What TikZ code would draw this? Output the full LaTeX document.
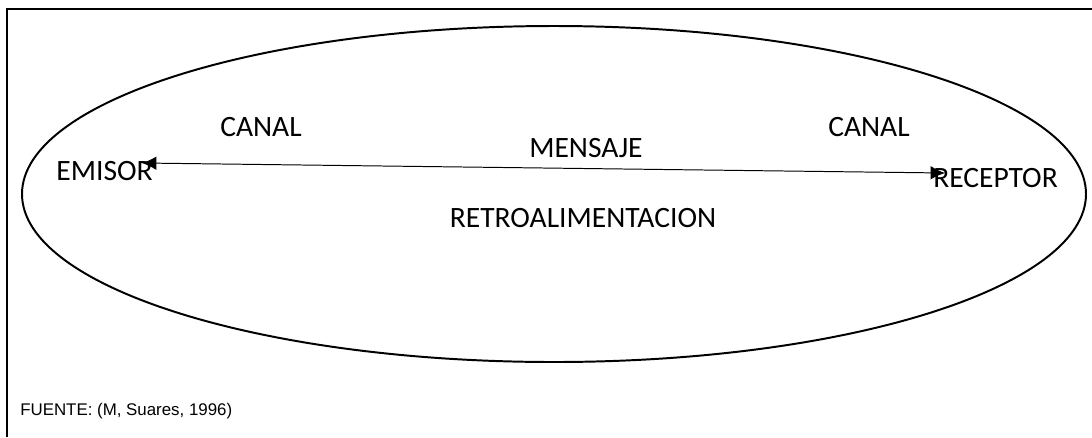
\documentclass[tikz,border=0pt]{standalone}
\usepackage{fontspec}
\setmainfont{Carlito}
\newfontfamily\arialfont{Liberation Sans}
\usetikzlibrary{arrows.meta,positioning,calc}

\begin{document}
\begin{tikzpicture}[x=0.025cm, y=-0.025cm,
            word/.style={font=\fontsize{21}{25}\selectfont, inner sep=0pt},
            note/.style={font=\arialfont\fontsize{12}{14}\selectfont, inner sep=0pt},
            frame/.style={line width=1.6pt},
            ring/.style={line width=1.4pt},
            link/.style={line width=0.7pt, {Latex[length=0.36cm,width=0.34cm]}-{Latex[length=0.36cm,width=0.34cm]}}
        ]
            \useasboundingbox (0,0) rectangle (1092,437);

            % Frame
            \draw[frame] (1092,9) -- (7,9) -- (7,437);

            % Ellipse
            \draw[ring] (554,194) ellipse [x radius=532, y radius=168];

            % Labels
            \node[word] (canalA) at (261,127) {CANAL};
            \node[word] (canalB) at (869,127) {CANAL};
            \node[word] (mensaje) at (586,148) {MENSAJE};
            \node[word] (retro) at (583,218) {RETROALIMENTACION};
            \node[word, anchor=east] (emisor) at (153,171) {EMISOR};
            \node[word, anchor=west] (receptor) at (933,178) {RECEPTOR};

            % Arrow
            \coordinate (emisorTip) at ([shift={(-11,-8)}]emisor.east);
            \coordinate (receptorTip) at ([shift={(12,-5)}]receptor.west);
            \draw[link] (emisorTip) -- (receptorTip);

            % Source
            \node[note, anchor=west] (fuente) at (20,411) {FUENTE: (M, Suares, 1996)};
        \end{tikzpicture}
\end{document}
